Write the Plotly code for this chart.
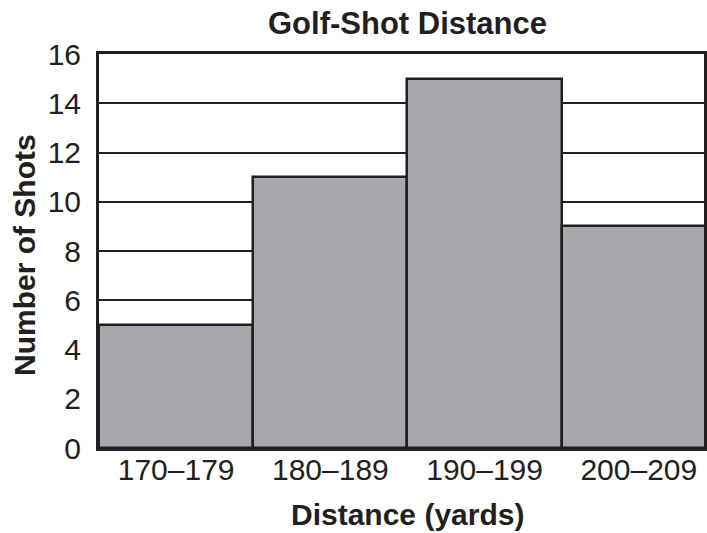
import plotly.graph_objects as go

categories = ["170–179", "180–189", "190–199", "200–209"]
shots = [5, 11, 15, 9]
y_ticks = [0, 2, 4, 6, 8, 10, 12, 14, 16]

DARK = "#231f20"
FILL = "#a7a8ab"
FONT = "Liberation Sans, Arial, sans-serif"

fig = go.Figure()
fig.add_trace(go.Bar(
    x=list(range(len(categories))),
    y=shots,
    marker=dict(color=FILL, line=dict(color=DARK, width=2.5)),
    width=1.0,
))

fig.update_layout(
    width=707, height=533,
    margin=dict(l=99, r=0, t=54, b=85),
    paper_bgcolor="white", plot_bgcolor="white",
    bargap=0, showlegend=False,
    font=dict(family=FONT, color=DARK),
    xaxis=dict(
        range=[-0.5, 3.5 - 12 / 155],
        tickvals=list(range(len(categories))),
        ticktext=categories,
        tickfont=dict(size=30, color=DARK),
        showgrid=False, zeroline=False,
        showline=True, linecolor=DARK, linewidth=3, mirror=True,
        ticks="", ticklabelstandoff=-7,
    ),
    yaxis=dict(
        range=[0, 16],
        tickvals=y_ticks,
        tickfont=dict(size=30, color=DARK),
        showgrid=True, gridcolor=DARK, gridwidth=1.5,
        zeroline=False,
        showline=True, linecolor=DARK, linewidth=3, mirror=True,
        ticks="", ticklabelstandoff=9,
    ),
    annotations=[
        dict(text="<b>Golf-Shot Distance</b>", xref="x", x=1.5, yref="paper", y=1 + 31 / 394,
             xanchor="center", yanchor="middle", showarrow=False,
             font=dict(size=31, color=DARK, family=FONT)),
        dict(text="<b>Distance (yards)</b>", xref="x", x=1.5, yref="paper", y=-66 / 394,
             xanchor="center", yanchor="middle", showarrow=False,
             font=dict(size=30, color=DARK, family=FONT)),
        dict(text="<b>Number of Shots</b>", xref="paper", x=0, xshift=-75,
             yref="paper", y=0.5 - 4 / 394, textangle=-90,
             xanchor="center", yanchor="middle", showarrow=False,
             font=dict(size=30, color=DARK, family=FONT)),
    ],
)

fig.write_html(
    "out.html",
    config={"displayModeBar": False},
    post_script="document.body.style.margin='0';document.body.style.overflow='hidden';",
)
